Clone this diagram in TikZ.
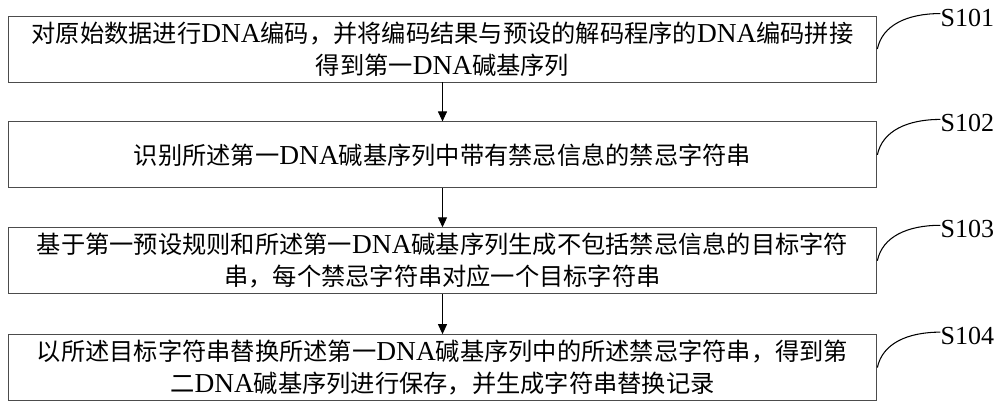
\documentclass[tikz,border=0pt]{standalone}
\usepackage{fontspec}
\setmainfont{Noto Sans CJK SC}
\newfontfamily\latin{Liberation Serif}
\newcommand{\dna}{{\latin\fontsize{15.6pt}{18.2pt}\selectfont DNA}}
\usetikzlibrary{arrows.meta, positioning}

\begin{document}
\begin{tikzpicture}[
    x=0.02cm, y=-0.02cm,
    font=\fontsize{13.8pt}{18.2pt}\selectfont,
    >={Triangle[length=0.2cm, width=0.18cm]},
    stepbox/.style={rectangle, draw=black!70, line width=0.5pt, minimum width=17.38cm, minimum height=1.32cm, align=center, inner sep=0pt},
    steplabel/.style={font=\latin\fontsize{14.8pt}{16pt}\selectfont, inner sep=0pt, anchor=west},
    flow/.style={->, line width=0.6pt},
    leadline/.style={line width=0.6pt},
]
    \useasboundingbox (0,0) rectangle (1000,405);

    \node[stepbox] (s1) at (442.5,49) {对原始数据进行\dna 编码，并将编码结果与预设的解码程序的\dna 编码拼接\\得到第一\dna 碱基序列};
    \node[stepbox, below=0.78cm of s1] (s2) {识别所述第一\dna 碱基序列中带有禁忌信息的禁忌字符串};
    \node[stepbox, below=0.78cm of s2] (s3) {基于第一预设规则和所述第一\dna 碱基序列生成不包括禁忌信息的目标字符\\串，每个禁忌字符串对应一个目标字符串};
    \node[stepbox, below=0.8cm of s3] (s4) {以所述目标字符串替换所述第一\dna 碱基序列中的所述禁忌字符串，得到第\\二\dna 碱基序列进行保存，并生成字符串替换记录};

    % step labels
    \node[steplabel] (l1) at ([xshift=1.26cm, yshift=-0.04cm]s1.north east) {S101};
    \node[steplabel] (l2) at ([xshift=1.26cm, yshift=-0.04cm]s2.north east) {S102};
    \node[steplabel] (l3) at ([xshift=1.26cm, yshift=-0.04cm]s3.north east) {S103};
    \node[steplabel] (l4) at ([xshift=1.26cm, yshift=-0.04cm]s4.north east) {S104};

    \draw[flow] (s1) -- (s2);
    \draw[flow] (s2) -- (s3);
    \draw[flow] (s3) -- (s4);

    \draw[leadline] (s1.east) .. controls +(5,-24) and +(-33,0) .. ([yshift=0.08cm]l1.west);
    \draw[leadline] (s2.east) .. controls +(5,-24) and +(-33,0) .. ([yshift=0.08cm]l2.west);
    \draw[leadline] (s3.east) .. controls +(5,-24) and +(-33,0) .. ([yshift=0.08cm]l3.west);
    \draw[leadline] (s4.east) .. controls +(5,-24) and +(-33,0) .. ([yshift=0.08cm]l4.west);
\end{tikzpicture}
\end{document}
